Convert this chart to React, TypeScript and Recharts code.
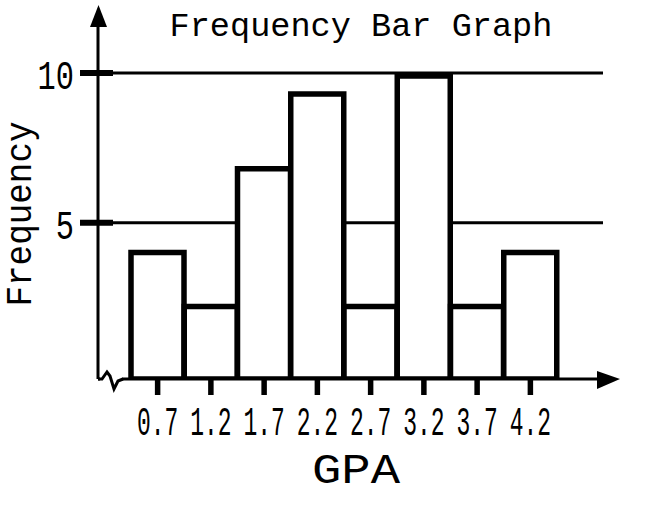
import { BarChart, Bar, XAxis, YAxis, CartesianGrid } from "recharts";

const gpaLabels = ["0.7", "1.2", "1.7", "2.2", "2.7", "3.2", "3.7", "4.2"];
const frequencies = [4, 2.2, 6.8, 9.3, 2.2, 9.9, 2.2, 4];
const yTicks = [5, 10];

const W = 660;
const H = 519;
const PLOT_LEFT = 98;
const PLOT_RIGHT = 603;
const PLOT_TOP = 25;
const PLOT_BOTTOM = 379;
// the axis sits a bit below zero in the original drawing
const Y_MIN = -0.22;
const Y_MAX = 11.6;

const FONT = "'Liberation Mono', 'DejaVu Sans Mono', monospace";

const data = gpaLabels.map((gpa, i) => ({ gpa, freq: frequencies[i] }));

function XTick({ x, y, payload }: any) {
  return (
    <text
      transform={`translate(${x},${y + 38}) scale(0.56,1)`}
      textAnchor="middle"
      fontFamily={FONT}
      fontSize={41}
      fill="#000"
    >
      {payload.value}
    </text>
  );
}

function YTick({ y, payload }: any) {
  return (
    <g>
      <line x1={PLOT_LEFT - 18} x2={PLOT_LEFT + 15} y1={y} y2={y} stroke="#000" strokeWidth={6} />
      <text
        transform={`translate(${PLOT_LEFT - 24},${y + 16}) scale(0.74,1)`}
        textAnchor="end"
        fontFamily={FONT}
        fontSize={41}
        fill="#000"
      >
        {payload.value}
      </text>
    </g>
  );
}

export default function App() {
  return (
    <div style={{ position: "absolute", left: 0, top: 0, width: W, height: H, background: "#fff" }}>
      <BarChart
        width={W}
        height={H}
        data={data}
        barCategoryGap={0}
        margin={{ top: PLOT_TOP, right: W - PLOT_RIGHT, bottom: H - PLOT_BOTTOM - 60, left: 0 }}
      >
        <CartesianGrid vertical={false} syncWithTicks stroke="#000" strokeWidth={3} />
        <XAxis
          dataKey="gpa"
          height={60}
          padding={{ left: 33, right: 46 }}
          axisLine={{ stroke: "#000", strokeWidth: 3 }}
          tickLine={{ stroke: "#000", strokeWidth: 5.5 }}
          tickSize={16}
          tick={<XTick />}
          interval={0}
        />
        <YAxis
          type="number"
          width={PLOT_LEFT}
          domain={[Y_MIN, Y_MAX]}
          ticks={yTicks}
          allowDataOverflow
          axisLine={{ stroke: "#000", strokeWidth: 3 }}
          tickLine={false}
          tickSize={0}
          tickMargin={0}
          tick={<YTick />}
        />
        <Bar
          dataKey={(d: any) => [Y_MIN, d.freq]}
          fill="#fff"
          stroke="#000"
          strokeWidth={5.5}
          isAnimationActive={false}
        />
      </BarChart>
      <svg
        width={W}
        height={H}
        style={{ position: "absolute", left: 0, top: 0, pointerEvents: "none" }}
      >
        <text x={361} y={36} textAnchor="middle" fontFamily={FONT} fontSize={33.6}>
          Frequency Bar Graph
        </text>
        <text
          transform="translate(31,214) rotate(-90)"
          textAnchor="middle"
          fontFamily={FONT}
          fontSize={37}
          textLength={185}
          lengthAdjust="spacingAndGlyphs"
        >
          Frequency
        </text>
        <text x={356} y={483} textAnchor="middle" fontFamily={FONT} fontSize={43} textLength={88} lengthAdjust="spacingAndGlyphs">
          GPA
        </text>
        {/* arrow heads */}
        <polygon points={`${PLOT_LEFT + 0.5},5 ${PLOT_LEFT - 8},27 ${PLOT_LEFT + 9},27`} fill="#000" />
        <polygon points={`597,371 620,${PLOT_BOTTOM} 597,389`} fill="#000" />
        {/* axis break */}
        <rect x={100} y={375} width={22} height={8} fill="#fff" />
        <polyline
          points={`${PLOT_LEFT},${PLOT_BOTTOM} 102,${PLOT_BOTTOM} 107,372 110,376 114,389 118,381 123,${PLOT_BOTTOM}`}
          fill="none"
          stroke="#000"
          strokeWidth={3}
        />
      </svg>
    </div>
  );
}
